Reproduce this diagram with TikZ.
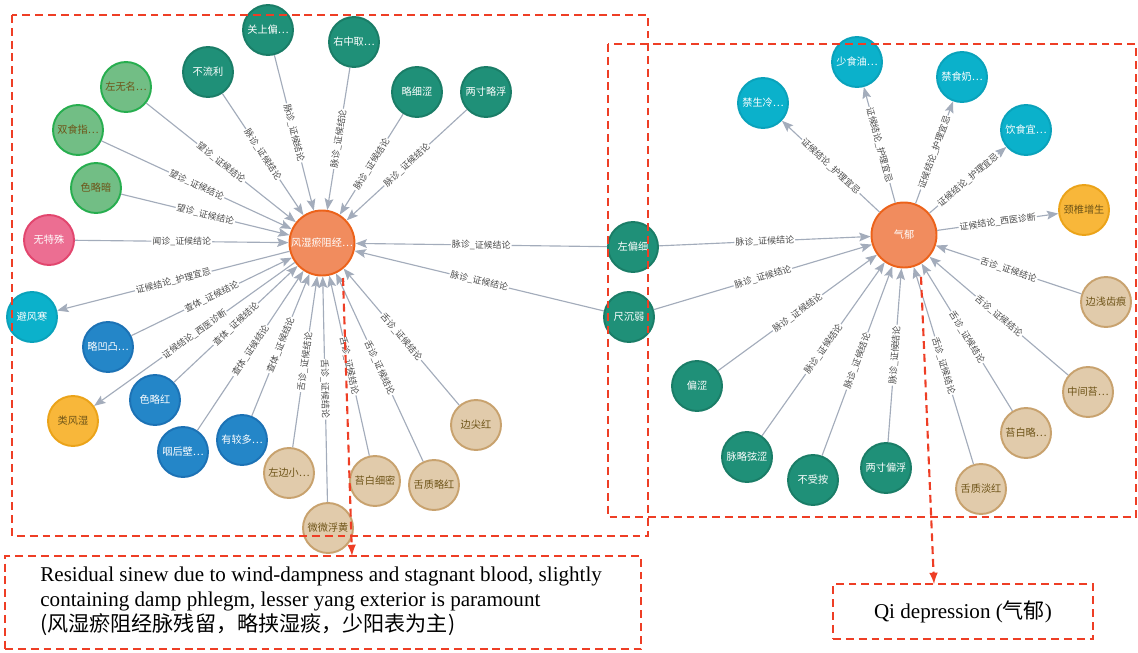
\documentclass[tikz,border=0pt]{standalone}
\usepackage{fontspec}
\setmainfont{Liberation Serif}
\newfontfamily\cjk{Noto Sans CJK SC}
\usepackage{xcolor}
\usetikzlibrary{arrows.meta}

\definecolor{maiF}{HTML}{1F9078}
\definecolor{maiD}{HTML}{1A7D67}
\definecolor{wangF}{HTML}{72BE85}
\definecolor{wangD}{HTML}{27AE4F}
\definecolor{wenF}{HTML}{EC6E92}
\definecolor{wenD}{HTML}{E2466E}
\definecolor{huliF}{HTML}{0BB1CB}
\definecolor{huliD}{HTML}{0AA2BB}
\definecolor{chaF}{HTML}{2486C8}
\definecolor{chaD}{HTML}{1C72B5}
\definecolor{xiyiF}{HTML}{F8B73A}
\definecolor{xiyiD}{HTML}{EBA319}
\definecolor{sheF}{HTML}{E1CBAB}
\definecolor{sheD}{HTML}{C8A26E}
\definecolor{hubF}{HTML}{F18C5E}
\definecolor{hubD}{HTML}{EC621A}
\definecolor{brownT}{HTML}{6E5418}
\definecolor{linkC}{HTML}{A3ACBB}
\definecolor{redC}{HTML}{EE3E25}

\tikzset{
  dot/.style={circle, line width=1.1pt, minimum size=1cm, inner sep=0pt,
    font=\cjk\fontsize{5.8}{6}\selectfont},
  mai/.style={dot, fill=maiF, draw=maiD, text=white},
  wang/.style={dot, fill=wangF, draw=wangD, text=brownT},
  wen/.style={dot, fill=wenF, draw=wenD, text=white},
  huli/.style={dot, fill=huliF, draw=huliD, text=white},
  cha/.style={dot, fill=chaF, draw=chaD, text=white},
  xiyi/.style={dot, fill=xiyiF, draw=xiyiD, text=brownT},
  she/.style={dot, fill=sheF, draw=sheD, text=brownT},
  hub/.style={dot, minimum size=1.3cm, fill=hubF, draw=hubD, text=white},
  link/.style={draw=linkC, line width=0.65pt, -{Stealth[length=6.5pt, width=5pt, inset=1.2pt]}},
  lbl/.style={sloped, fill=white, inner sep=0.6pt, text=black!70,
    font=\cjk\fontsize{5.1}{5.5}\selectfont},
  redbox/.style={draw=redC, line width=1.2pt, dash pattern=on 4.5pt off 2.8pt},
  redarrow/.style={draw=redC, line width=1.2pt, dash pattern=on 4.5pt off 2.8pt, -latex},
  note/.style={redbox, inner sep=0pt, font=\fontsize{12}{14.2}\selectfont}
}

\begin{document}
\begin{tikzpicture}[x=0.02cm, y=-0.02cm]
  \useasboundingbox (0,0) rectangle (1138,652);

  % Left hub and its neighbours
  \node[hub] (fengshi) at (322,243) {风湿瘀阻经…};
  \node[mai] (guanshang) at (268,30) {关上偏…};
  \node[mai] (buliuli) at (208,72) {不流利};
  \node[wang] (zuowuming) at (126,87) {左无名…};
  \node[wang] (shuangshi) at (78,130) {双食指…};
  \node[wang] (selvean) at (96,188) {色略暗};
  \node[wen] (wuteshu) at (49,240) {无特殊};
  \node[mai] (youzhong) at (354,42) {右中取…};
  \node[mai] (lvexise) at (417,92) {略细涩};
  \node[mai] (liangcunlve) at (486,92) {两寸略浮};
  \node[huli] (bifeng) at (32,317) {避风寒};
  \node[cha] (lveaotu) at (108,347) {略凹凸…};
  \node[xiyi] (leifeng) at (73,421) {类风湿};
  \node[cha] (selvehong) at (155,400) {色略红};
  \node[cha] (yanhou) at (183,452) {咽后壁…};
  \node[cha] (youjiao) at (242,440) {有较多…};
  \node[she] (zuobian) at (289,473) {左边小…};
  \node[she] (weiwei) at (328,528) {微微浮黄};
  \node[she] (taibaixi) at (375,481) {苔白细密};
  \node[she] (shezhilve) at (434,485) {舌质略红};
  \node[she] (bianjian) at (476,425) {边尖红};

  % Shared pulse nodes
  \node[mai] (zuopian) at (633,247) {左偏细};
  \node[mai] (chichen) at (629,317) {尺沉弱};

  % Right hub and its neighbours
  \node[hub] (qiyu) at (904,235) {气郁};
  \node[huli] (jinsheng) at (763,103) {禁生冷…};
  \node[huli] (shaoshi) at (857,62) {少食油…};
  \node[huli] (jinshi) at (962,77) {禁食奶…};
  \node[huli] (yinshi) at (1026,130) {饮食宜…};
  \node[xiyi] (jingzhui) at (1084,210) {颈椎增生};
  \node[she] (bianqian) at (1106,302) {边浅齿痕};
  \node[she] (zhongjian) at (1088,392) {中间苔…};
  \node[she] (taibailve) at (1026,433) {苔白略…};
  \node[she] (shezhidan) at (981,489) {舌质淡红};
  \node[mai] (liangcunpian) at (886,468) {两寸偏浮};
  \node[mai] (pianse) at (697,386) {偏涩};
  \node[mai] (mailve) at (747,457) {脉略弦涩};
  \node[mai] (bushou) at (813,480) {不受按};

  % Left edges
  \draw[link] (guanshang) -- node[lbl]{脉诊\_证候结论} (fengshi);
  \draw[link] (buliuli) -- node[lbl]{脉诊\_证候结论} (fengshi);
  \draw[link] (zuowuming) -- node[lbl]{望诊\_证候结论} (fengshi);
  \draw[link] (shuangshi) -- node[lbl]{望诊\_证候结论} (fengshi);
  \draw[link] (selvean) -- node[lbl]{望诊\_证候结论} (fengshi);
  \draw[link] (wuteshu) -- node[lbl]{闻诊\_证候结论} (fengshi);
  \draw[link] (youzhong) -- node[lbl]{脉诊\_证候结论} (fengshi);
  \draw[link] (lvexise) -- node[lbl]{脉诊\_证候结论} (fengshi);
  \draw[link] (liangcunlve) -- node[lbl]{脉诊\_证候结论} (fengshi);
  \draw[link] (zuopian) -- node[lbl]{脉诊\_证候结论} (fengshi);
  \draw[link] (chichen) -- node[lbl]{脉诊\_证候结论} (fengshi);
  \draw[link] (fengshi) -- node[lbl]{证候结论\_护理宜忌} (bifeng);
  \draw[link] (lveaotu) -- node[lbl]{查体\_证候结论} (fengshi);
  \draw[link] (fengshi) -- node[lbl]{证候结论\_西医诊断} (leifeng);
  \draw[link] (selvehong) -- node[lbl]{查体\_证候结论} (fengshi);
  \draw[link] (yanhou) -- node[lbl]{查体\_证候结论} (fengshi);
  \draw[link] (youjiao) -- node[lbl]{查体\_证候结论} (fengshi);
  \draw[link] (zuobian) -- node[lbl]{舌诊\_证候结论} (fengshi);
  \draw[link] (weiwei) -- node[lbl]{舌诊\_证候结论} (fengshi);
  \draw[link] (taibaixi) -- node[lbl]{舌诊\_证候结论} (fengshi);
  \draw[link] (shezhilve) -- node[lbl]{舌诊\_证候结论} (fengshi);
  \draw[link] (bianjian) -- node[lbl]{舌诊\_证候结论} (fengshi);

  % Right edges
  \draw[link] (zuopian) -- node[lbl]{脉诊\_证候结论} (qiyu);
  \draw[link] (chichen) -- node[lbl]{脉诊\_证候结论} (qiyu);
  \draw[link] (pianse) -- node[lbl]{脉诊\_证候结论} (qiyu);
  \draw[link] (mailve) -- node[lbl]{脉诊\_证候结论} (qiyu);
  \draw[link] (bushou) -- node[lbl]{脉诊\_证候结论} (qiyu);
  \draw[link] (liangcunpian) -- node[lbl]{脉诊\_证候结论} (qiyu);
  \draw[link] (shezhidan) -- node[lbl]{舌诊\_证候结论} (qiyu);
  \draw[link] (taibailve) -- node[lbl]{舌诊\_证候结论} (qiyu);
  \draw[link] (zhongjian) -- node[lbl]{舌诊\_证候结论} (qiyu);
  \draw[link] (bianqian) -- node[lbl]{舌诊\_证候结论} (qiyu);
  \draw[link] (qiyu) -- node[lbl]{证候结论\_西医诊断} (jingzhui);
  \draw[link] (qiyu) -- node[lbl]{证候结论\_护理宜忌} (yinshi);
  \draw[link] (qiyu) -- node[lbl]{证候结论\_护理宜忌} (jinshi);
  \draw[link] (qiyu) -- node[lbl]{证候结论\_护理宜忌} (shaoshi);
  \draw[link] (qiyu) -- node[lbl]{证候结论\_护理宜忌} (jinsheng);

  % Red dashed frames
  \draw[redbox] (12,15) rectangle (648,536);
  \draw[redbox] (608,44) rectangle (1136,517);

  % Notes
  \node[note, minimum width=12.72cm, minimum height=1.86cm] (resnote) at (323,602.5) {};
  \node[anchor=north west, inner sep=0pt, align=left,
    font=\fontsize{12}{14.2}\selectfont] (restext) at (40,567)
    {Residual sinew due to wind-dampness and stagnant blood, slightly\\
     containing damp phlegm, lesser yang exterior is paramount\\
     {\cjk (风湿瘀阻经脉残留，略挟湿痰，少阳表为主)}};
  \node[note, minimum width=5.2cm, minimum height=1.1cm] (qinote) at (963,611.5)
    {Qi depression ({\cjk 气郁})};

  \coordinate (fsdrop) at (343,278);
  \coordinate (fstip) at (352,556);
  \coordinate (qydrop) at (921,277);
  \coordinate (qytip) at (934,584);
  \draw[redarrow] (fsdrop) -- (fstip);
  \draw[redarrow] (qydrop) -- (qytip);
\end{tikzpicture}
\end{document}
